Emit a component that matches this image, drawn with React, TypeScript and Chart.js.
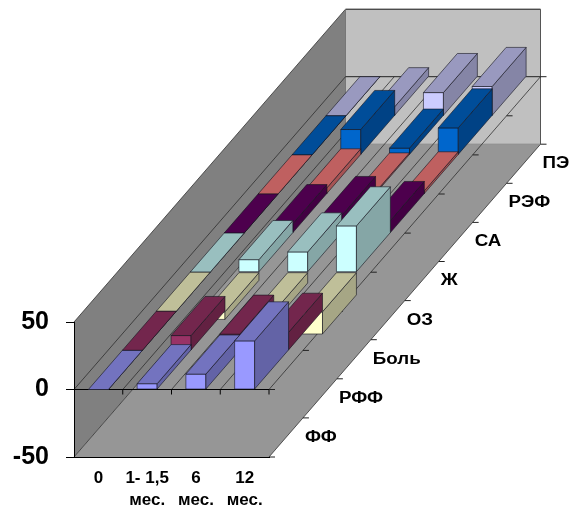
import React, { useEffect, useRef } from "react";
import { Chart, registerables, BarController } from "chart.js";

const categories = ["0", ["1- 1,5", "мес."], ["6", "мес."], ["12", "мес."]];
const seriesNames = ["ФФ", "РФФ", "Боль", "ОЗ", "Ж", "СА", "РЭФ", "ПЭ"];

const ff = [0, 4.3, 11.4, 36];
const rff = [0, 11, 12, 13.4];
const bol = [0, -6, -8, -16.8];
const oz = [0, 9.3, 15, 34.3];
const zh = [0, 7, 13, 9.3];
const sa = [0, 4.5, 1.5, 2.3];
const ref = [0, 18.8, 5, 20];
const pe = [0, 6.7, 17.2, 21.7];
const seriesValues = [ff, rff, bol, oz, zh, sa, ref, pe];

const frontColors = ["#9999FF", "#993366", "#FFFFCC", "#CCFFFF", "#660066", "#FF8080", "#0066CC", "#CCCCFF"];

const DEPTH_DX = 271.5;
const DEPTH_DY = -312.8;
const DEPTH_COUNT = seriesNames.length;

function shade(hex: string, f: number) {
  const n = parseInt(hex.slice(1), 16);
  const r = Math.round(((n >> 16) & 255) * f);
  const g = Math.round(((n >> 8) & 255) * f);
  const b = Math.round((n & 255) * f);
  return `rgb(${r},${g},${b})`;
}

function depthOffset(chart: any, d: number) {
  const z = chart.scales.z;
  const frac = (z.getPixelForValue(d) - z.left) / z.width;
  return { dx: frac * DEPTH_DX, dy: frac * DEPTH_DY };
}

function poly(ctx: CanvasRenderingContext2D, pts: number[][], fill: string | null, stroke: string | null) {
  ctx.beginPath();
  pts.forEach((p, i) => (i ? ctx.lineTo(p[0], p[1]) : ctx.moveTo(p[0], p[1])));
  ctx.closePath();
  if (fill) {
    ctx.fillStyle = fill;
    ctx.fill();
  }
  if (stroke) {
    ctx.strokeStyle = stroke;
    ctx.lineWidth = 1;
    ctx.stroke();
  }
}

function seg(ctx: CanvasRenderingContext2D, x1: number, y1: number, x2: number, y2: number, color: string, w = 1) {
  ctx.beginPath();
  ctx.moveTo(x1, y1);
  ctx.lineTo(x2, y2);
  ctx.strokeStyle = color;
  ctx.lineWidth = w;
  ctx.stroke();
}

class Bar3DController extends BarController {
  static id = "bar3d";
  static defaults = { ...(BarController as any).defaults };
  static overrides = (BarController as any).overrides;
  draw() {
    const self = this as any;
    const chart = self.chart;
    const ctx: CanvasRenderingContext2D = chart.ctx;
    const meta = self._cachedMeta;
    const idx: number = self.index;
    const color: string = chart.data.datasets[idx].backgroundColor;
    const a = depthOffset(chart, idx);
    const b = depthOffset(chart, idx + 1);
    const edge = "rgba(20,20,30,0.6)";
    meta.data.forEach((el: any) => {
      const l = el.x - el.width / 2;
      const r = el.x + el.width / 2;
      const t = Math.min(el.y, el.base);
      const bt = Math.max(el.y, el.base);
      const P = (x: number, y: number, o: { dx: number; dy: number }) => [x + o.dx, y + o.dy];
      poly(ctx, [P(l, t, a), P(r, t, a), P(r, bt, a), P(l, bt, a)], color, edge);
      poly(ctx, [P(r, t, a), P(r, t, b), P(r, bt, b), P(r, bt, a)], shade(color, 0.65), edge);
      poly(ctx, [P(l, t, a), P(r, t, a), P(r, t, b), P(l, t, b)], shade(color, 0.75), edge);
    });
  }
}

Chart.register(...registerables, Bar3DController as any);

const wallsPlugin = {
  id: "walls",
  beforeDraw(chart: any) {
    const { ctx, chartArea: ca, scales } = chart;
    const back = depthOffset(chart, DEPTH_COUNT);
    const y0 = scales.y.getPixelForValue(0);
    const B = (x: number, y: number) => [x + back.dx, y + back.dy];
    ctx.save();
    poly(ctx, [[ca.left, ca.top], B(ca.left, ca.top), B(ca.left, ca.bottom), [ca.left, ca.bottom]], "#808080", null);
    poly(ctx, [B(ca.left, ca.top), B(ca.right, ca.top), B(ca.right, ca.bottom), B(ca.left, ca.bottom)], "#C0C0C0", null);
    poly(ctx, [[ca.left, ca.bottom], [ca.right, ca.bottom], B(ca.right, ca.bottom), B(ca.left, ca.bottom)], "#969696", null);
    const dark = "rgba(40,40,40,0.75)";
    const t1 = B(ca.left, ca.top);
    const t2 = B(ca.right, ca.top);
    const b1 = B(ca.left, ca.bottom);
    const b2 = B(ca.right, ca.bottom);
    seg(ctx, ca.left, ca.top, t1[0], t1[1], dark);
    seg(ctx, t1[0], t1[1], t2[0], t2[1], "#111");
    seg(ctx, t2[0], t2[1], b2[0], b2[1], "#555");
    seg(ctx, t1[0], t1[1], b1[0], b1[1], "#777");
    seg(ctx, ca.left, ca.bottom, b1[0], b1[1], dark);
    seg(ctx, ca.right, ca.bottom, b2[0], b2[1], dark);
    seg(ctx, b1[0], b1[1], b2[0], b2[1], "#888");
    const n = categories.length;
    for (let i = 0; i <= n; i++) {
      const x = i === n ? ca.right : i === 0 ? ca.left : (scales.x.getPixelForValue(i) + scales.x.getPixelForValue(i - 1)) / 2;
      const e = B(x, y0);
      seg(ctx, x, y0, e[0], e[1], dark);
      if (i > 0) seg(ctx, x, y0, x, y0 + 5, "#000");
    }
    const z0 = B(ca.left, y0);
    const z1 = B(ca.right, y0);
    seg(ctx, z0[0], z0[1], z1[0], z1[1], "#222");
    seg(ctx, ca.left, y0, ca.right, y0, "#000");
    for (let d = 0; d <= DEPTH_COUNT; d++) {
      const o = depthOffset(chart, d);
      seg(ctx, ca.right + o.dx, y0 + o.dy, ca.right + o.dx + 6, y0 + o.dy, "#222");
      seg(ctx, ca.right + o.dx, ca.bottom + o.dy, ca.right + o.dx + 6, ca.bottom + o.dy, "#222");
    }
    ctx.restore();
  },
  afterDraw(chart: any) {
    const { ctx, chartArea: ca } = chart;
    seriesNames.forEach((name, i) => {
      const o = depthOffset(chart, i + 0.5);
      ctx.save();
      ctx.font = "bold 16px 'Liberation Sans'";
      ctx.fillStyle = "#000";
      ctx.textAlign = "left";
      ctx.textBaseline = "middle";
      ctx.translate(ca.right + o.dx + 19, ca.bottom + o.dy);
      ctx.scale(1.17, 1);
      ctx.fillText(name, 0, 0);
      ctx.restore();
    });
  },
};

export default function App() {
  const ref_ = useRef<HTMLCanvasElement | null>(null);
  useEffect(() => {
    const canvas = ref_.current;
    if (!canvas) return;
    const chart = new Chart(canvas, {
      type: "bar3d" as any,
      data: {
        labels: categories as any,
        datasets: seriesNames.map((name, i) => ({
          label: name,
          data: seriesValues[i],
          backgroundColor: frontColors[i],
          grouped: false,
          barPercentage: 0.41,
          categoryPercentage: 1,
          clip: false,
        })) as any,
      },
      options: {
        responsive: false,
        animation: false,
        layout: { padding: { left: 0, top: 322, right: 302, bottom: 0 } },
        plugins: { legend: { display: false }, tooltip: { enabled: false } },
        scales: {
          x: {
            type: "category",
            offset: true,
            grid: { display: false },
            border: { display: true, color: "#000", width: 1 },
            ticks: {
              color: "#000",
              padding: 2,
              maxRotation: 0,
              autoSkip: false,
              font: { family: "'Liberation Sans'", size: 17, weight: "bold", lineHeight: 1.31 },
            },
            afterFit: (s: any) => {
              s.height = 51;
            },
          },
          y: {
            type: "linear",
            min: -50,
            max: 50,
            ticks: {
              stepSize: 50,
              color: "#000",
              padding: 17,
              font: { family: "'Liberation Sans'", size: 25, weight: "bold" },
            },
            grid: { drawOnChartArea: false, drawTicks: true, tickLength: 8, color: "#000" },
            border: { display: true, color: "#000", width: 1 },
            afterFit: (s: any) => {
              s.width = 74;
            },
          },
          z: { type: "linear", axis: "x", min: 0, max: DEPTH_COUNT, display: false, offset: false, grid: { offset: false } },
        },
      } as any,
      plugins: [wallsPlugin],
    });
    return () => chart.destroy();
  }, []);
  return (
    <div style={{ position: "absolute", left: 0, top: 0, width: 571, height: 508, background: "#fff" }}>
      <canvas ref={ref_} width={571} height={508} style={{ display: "block" }} />
    </div>
  );
}
